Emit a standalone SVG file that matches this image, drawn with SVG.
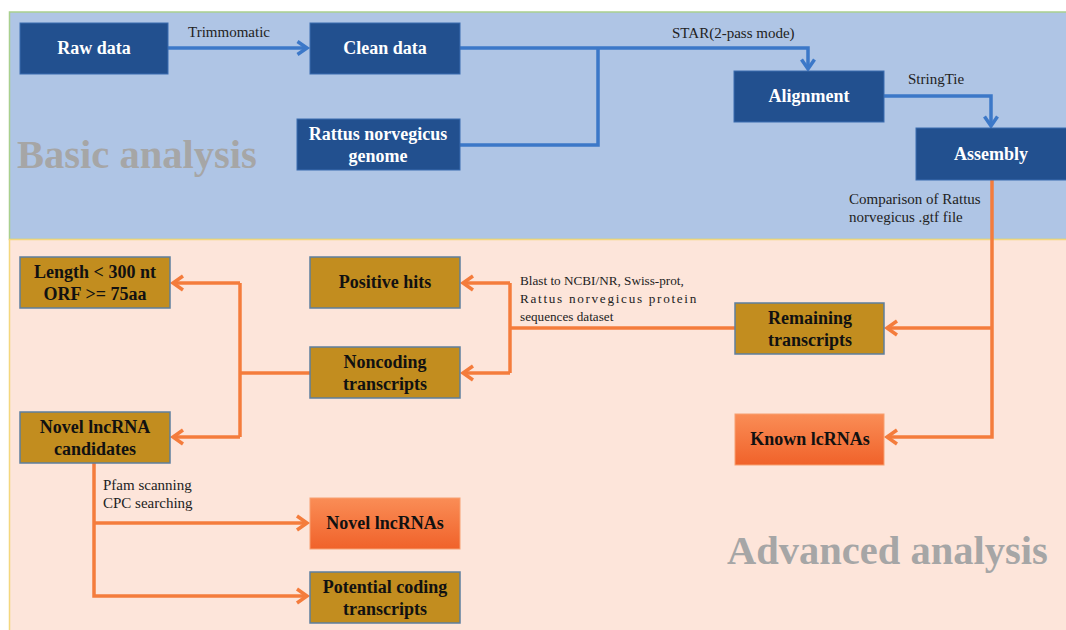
<svg xmlns="http://www.w3.org/2000/svg" width="1066" height="630" viewBox="0 0 1066 630">
<defs>
<style>
.blue{fill:#22508f;stroke:#3a6db0;stroke-width:1}
.gold{fill:#c28d1f;stroke:#5d7f9e;stroke-width:1.5}
.orng{fill:url(#og);stroke:#f7a070;stroke-width:1}
.wt{font-family:"Liberation Serif",serif;font-weight:bold;font-size:18px;fill:#ffffff;text-anchor:middle}
.bt{font-family:"Liberation Serif",serif;font-weight:bold;font-size:18px;fill:#111111;text-anchor:middle}
.lbl{font-family:"Liberation Serif",serif;font-size:15px;fill:#222222}
.sm{font-family:"Liberation Serif",serif;font-size:13.2px;fill:#222222}
.big{font-family:"Liberation Serif",serif;font-weight:bold;font-size:40.5px;fill:#a6a6a6}
.bl{fill:none;stroke:#3c78c8;stroke-width:3.5}
.ol{fill:none;stroke:#f47c3c;stroke-width:3.5}
</style>
<linearGradient id="og" x1="0" y1="0" x2="0" y2="1">
<stop offset="0" stop-color="#fa8d56"/>
<stop offset="1" stop-color="#f0622a"/>
</linearGradient>
<marker id="ab" markerWidth="16" markerHeight="16" refX="11" refY="8" orient="auto" markerUnits="userSpaceOnUse">
<path d="M1.5,1.5 L11,8 L1.5,14.5" fill="none" stroke="#3c78c8" stroke-width="3.5"/>
</marker>
<marker id="ao" markerWidth="18" markerHeight="18" refX="12" refY="9" orient="auto" markerUnits="userSpaceOnUse">
<path d="M2,2 L12,9 L2,16" fill="none" stroke="#f47c3c" stroke-width="3.5"/>
</marker>
</defs>
<rect x="0" y="0" width="1066" height="630" fill="#ffffff"/>
<g id="panels">
<rect x="9.5" y="12" width="1062" height="227.5" fill="#afc5e5" stroke="#a9d08e" stroke-width="1.5"/>
<rect x="9.5" y="239.5" width="1062" height="395" fill="#fde5da" stroke="#f4d77e" stroke-width="1.5"/>
<text class="big" x="17" y="168">Basic analysis</text>
<text class="big" x="727" y="564">Advanced analysis</text>
</g>
<g id="connectors">
<path class="bl" d="M167,48 H307" marker-end="url(#ab)"/>
<path class="bl" d="M460,48 H808 V69" marker-end="url(#ab)"/>
<path class="bl" d="M460,145 H598 V48"/>
<path class="bl" d="M884,96 H991 V126" marker-end="url(#ab)"/>
<path class="ol" d="M992,180 V437 H887" marker-end="url(#ao)"/>
<path class="ol" d="M992,328 H887" marker-end="url(#ao)"/>
<path class="ol" d="M735,328 H510"/>
<path class="ol" d="M510,283 V373"/>
<path class="ol" d="M510,283 H463" marker-end="url(#ao)"/>
<path class="ol" d="M510,373 H463" marker-end="url(#ao)"/>
<path class="ol" d="M310,373 H240"/>
<path class="ol" d="M240,283 V437"/>
<path class="ol" d="M240,283 H173" marker-end="url(#ao)"/>
<path class="ol" d="M240,437 H173" marker-end="url(#ao)"/>
<path class="ol" d="M94,463 V596 H307" marker-end="url(#ao)"/>
<path class="ol" d="M94,523 H307" marker-end="url(#ao)"/>
<text class="lbl" x="188" y="37">Trimmomatic</text>
<text class="lbl" x="672" y="38">STAR(2-pass mode)</text>
<text class="lbl" x="908" y="84">StringTie</text>
<text class="lbl" x="849" y="204">Comparison of Rattus</text>
<text class="lbl" x="849" y="222">norvegicus .gtf file</text>
<text class="sm" x="520" y="285">Blast to NCBI/NR, Swiss-prot,</text>
<text class="sm" x="520" y="303" letter-spacing="1.7">Rattus norvegicus protein</text>
<text class="sm" x="520" y="321">sequences dataset</text>
<text class="lbl" x="103" y="490">Pfam scanning</text>
<text class="lbl" x="103" y="508">CPC searching</text>
</g>
<g id="raw-data"><rect class="blue" x="20" y="23" width="148" height="51"/><text class="wt" x="94" y="54">Raw data</text></g>
<g id="clean-data"><rect class="blue" x="310" y="23" width="150" height="51"/><text class="wt" x="385" y="54">Clean data</text></g>
<g id="genome"><rect class="blue" x="297" y="119" width="163" height="51"/><text class="wt" x="378" y="140">Rattus norvegicus</text><text class="wt" x="378" y="162">genome</text></g>
<g id="alignment"><rect class="blue" x="734" y="71" width="150" height="51"/><text class="wt" x="809" y="102">Alignment</text></g>
<g id="assembly"><rect class="blue" x="916" y="128" width="160" height="52"/><text class="wt" x="991" y="160">Assembly</text></g>
<g id="remaining"><rect class="gold" x="735" y="303" width="149" height="51"/><text class="bt" x="810" y="324">Remaining</text><text class="bt" x="810" y="346">transcripts</text></g>
<g id="known"><rect class="orng" x="735" y="414" width="149" height="51"/><text class="bt" x="810" y="445">Known lcRNAs</text></g>
<g id="positive"><rect class="gold" x="310" y="257" width="150" height="51"/><text class="bt" x="385" y="288">Positive hits</text></g>
<g id="noncoding"><rect class="gold" x="310" y="347" width="150" height="51"/><text class="bt" x="385" y="368">Noncoding</text><text class="bt" x="385" y="390">transcripts</text></g>
<g id="length"><rect class="gold" x="20" y="257" width="150" height="51"/><text class="bt" x="95" y="278">Length &lt; 300 nt</text><text class="bt" x="95" y="300">ORF &gt;= 75aa</text></g>
<g id="candidates"><rect class="gold" x="20" y="412" width="150" height="51"/><text class="bt" x="95" y="433">Novel lncRNA</text><text class="bt" x="95" y="455">candidates</text></g>
<g id="novel"><rect class="orng" x="310" y="498" width="150" height="51"/><text class="bt" x="385" y="529">Novel lncRNAs</text></g>
<g id="potential"><rect class="gold" x="310" y="572" width="150" height="51"/><text class="bt" x="385" y="593">Potential coding</text><text class="bt" x="385" y="615">transcripts</text></g>
</svg>
